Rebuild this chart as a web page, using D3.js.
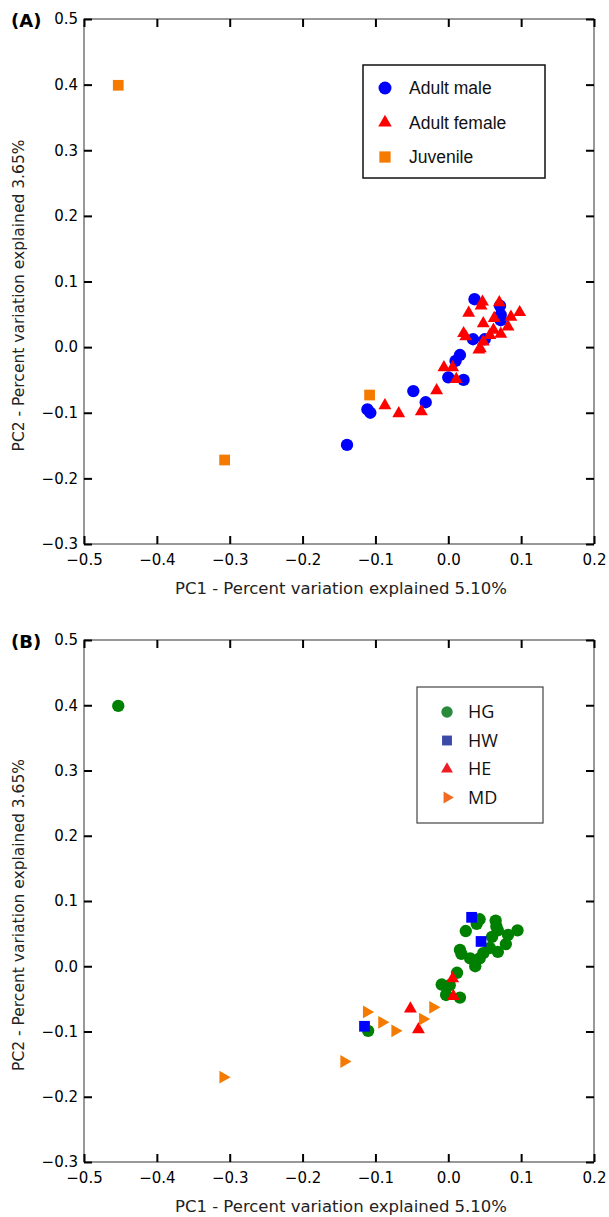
<!DOCTYPE html>
<html>
<head>
<meta charset="utf-8">
<script src="https://cdn.jsdelivr.net/npm/d3@7"></script>
<style>
  body { margin: 0; background: #fff; }
  svg { display: block; }
</style>
</head>
<body>
<svg width="609" height="1217"></svg>
<script>
// PCA scores [PC1, PC2]
const adultMale = [
    [0.036, 0.073], [0.071, 0.063], [0.072, 0.049], [0.072, 0.041], [0.034, 0.012],
    [0.050, 0.012], [0.016, -0.012], [0.010, -0.021], [0.000, -0.046], [0.021, -0.050],
    [-0.048, -0.067], [-0.031, -0.084], [-0.111, -0.095], [-0.107, -0.100], [-0.139, -0.149]
];
const adultFemale = [
    [0.047, 0.069], [0.045, 0.063], [0.070, 0.068], [0.098, 0.053], [0.028, 0.052],
    [0.086, 0.046], [0.063, 0.044], [0.082, 0.031], [0.048, 0.036], [0.021, 0.021],
    [0.024, 0.016], [0.062, 0.026], [0.072, 0.020], [0.057, 0.018], [0.048, 0.008],
    [0.044, -0.002], [0.042, -0.004], [-0.006, -0.031], [0.006, -0.031], [0.011, -0.049],
    [-0.016, -0.066], [-0.087, -0.089], [-0.068, -0.101], [-0.037, -0.098]
];
const juvenile = [[-0.453, 0.399], [-0.108, -0.073], [-0.307, -0.172]];

const hg = [
    [-0.453, 0.399], [0.043, 0.072], [0.039, 0.065], [0.024, 0.054], [0.065, 0.070],
    [0.066, 0.061], [0.068, 0.055], [0.095, 0.055], [0.082, 0.048], [0.060, 0.045],
    [0.079, 0.034], [0.068, 0.022], [0.057, 0.028], [0.048, 0.020], [0.043, 0.012],
    [0.037, 0.000], [0.030, 0.012], [0.016, 0.025], [0.018, 0.019], [0.012, -0.010],
    [-0.009, -0.028], [0.002, -0.029], [-0.003, -0.044], [0.016, -0.048], [-0.110, -0.099]
];
const hw = [[0.032, 0.075], [0.045, 0.038], [-0.115, -0.092]];
const he = [[0.006, -0.019], [0.007, -0.046], [-0.052, -0.065], [-0.041, -0.097]];
const md = [
    [-0.112, -0.070], [-0.091, -0.086], [-0.073, -0.099], [-0.021, -0.063],
    [-0.035, -0.081], [-0.309, -0.170], [-0.143, -0.146]
];

const xTicks = [-0.5, -0.4, -0.3, -0.2, -0.1, 0.0, 0.1, 0.2];
const yTicks = [-0.3, -0.2, -0.1, 0.0, 0.1, 0.2, 0.3, 0.4, 0.5];
const xTitle = 'PC1 - Percent variation explained 5.10%';
const yTitle = 'PC2 - Percent variation explained 3.65%';

const svg = d3.select('svg');
const fmt = d3.format('.1f');

const shapes = {
    circle: { type: d3.symbolCircle, size: 120, rotate: 0 },
    square: { type: d3.symbolSquare, size: 115, rotate: 0 },
    triangle: { type: d3.symbolTriangle, size: 72, rotate: 0 },
    right: { type: d3.symbolTriangle, size: 72, rotate: 90 }
};

const drawPanel = (top, height, label, series, legend) => {
    const left = 84, right = 594, bottom = top + height;
    const x = d3.scaleLinear().domain([-0.5, 0.2]).range([left, right]);
    const y = d3.scaleLinear().domain([-0.3, 0.5]).range([bottom, top]);
    const g = svg.append('g');

    // frame
    g.append('rect')
        .attr('x', left).attr('y', top)
        .attr('width', right - left).attr('height', bottom - top)
        .attr('fill', 'none').attr('stroke', '#333').attr('stroke-width', 1);

    const styleAxis = (sel, noText) => {
        sel.select('.domain').remove();
        sel.selectAll('.tick line').attr('stroke', '#000').attr('stroke-width', 2);
        sel.selectAll('.tick text')
            .attr('font-family', 'DejaVu Sans').attr('font-size', 15).attr('fill', '#000');
        if (noText) sel.selectAll('.tick text').remove();
    };

    g.append('g').attr('transform', `translate(0,${bottom})`)
        .call(d3.axisBottom(x).tickValues(xTicks).tickFormat(fmt).tickSize(-8).tickPadding(10))
        .call(s => styleAxis(s, false));
    g.append('g').attr('transform', `translate(0,${top})`)
        .call(d3.axisTop(x).tickValues(xTicks).tickSize(-8))
        .call(s => styleAxis(s, true));
    g.append('g').attr('transform', `translate(${left},0)`)
        .call(d3.axisLeft(y).tickValues(yTicks).tickFormat(fmt).tickSize(-8).tickPadding(6))
        .call(s => styleAxis(s, false));
    g.append('g').attr('transform', `translate(${right},0)`)
        .call(d3.axisRight(y).tickValues(yTicks).tickSize(-8))
        .call(s => styleAxis(s, true));

    // titles
    g.append('text')
        .attr('x', (left + right) / 2 + 2).attr('y', bottom + 50)
        .attr('text-anchor', 'middle')
        .attr('font-family', 'DejaVu Sans').attr('font-size', 16.5).attr('fill', '#222')
        .text(xTitle);
    g.append('text')
        .attr('transform', `translate(24,${(top + bottom) / 2 + 14}) rotate(-90)`)
        .attr('text-anchor', 'middle')
        .attr('font-family', 'DejaVu Sans').attr('font-size', 15.5).attr('fill', '#222')
        .text(yTitle);
    g.append('text')
        .attr('x', 11).attr('y', top + 8)
        .attr('font-family', 'DejaVu Sans').attr('font-size', 18).attr('font-weight', 'bold')
        .text(label);

    // points
    series.forEach(s => {
        const sh = shapes[s.shape];
        g.append('g').selectAll('path').data(s.data).enter().append('path')
            .attr('d', d3.symbol().type(sh.type).size(sh.size))
            .attr('transform', d => `translate(${x(d[0])},${y(d[1])}) rotate(${sh.rotate})`)
            .attr('fill', s.color);
    });

    // legend
    const lg = g.append('g');
    lg.append('rect')
        .attr('x', legend.x).attr('y', legend.y)
        .attr('width', legend.w).attr('height', legend.h)
        .attr('fill', '#fff').attr('stroke', legend.stroke).attr('stroke-width', legend.sw);
    legend.items.forEach((it, i) => {
        const cy = legend.y + legend.first + i * legend.step;
        const sh = shapes[it.shape];
        lg.append('path')
            .attr('d', d3.symbol().type(sh.type).size(sh.size * legend.scale))
            .attr('transform', `translate(${legend.x + legend.mx},${cy}) rotate(${sh.rotate})`)
            .attr('fill', it.color);
        lg.append('text')
            .attr('x', legend.x + legend.tx).attr('y', cy)
            .attr('dy', '0.36em')
            .attr('font-family', legend.font).attr('font-size', legend.fs).attr('fill', '#111')
            .text(it.name);
    });
};

drawPanel(19, 525, '(A)', [
    { data: adultMale, shape: 'circle', color: '#0000ff' },
    { data: adultFemale, shape: 'triangle', color: '#ff0000' },
    { data: juvenile, shape: 'square', color: '#f57a00' }
], {
    x: 363, y: 65, w: 182, h: 113, stroke: '#111', sw: 1.5, first: 23, step: 34.5,
    mx: 22, tx: 46, font: 'Liberation Sans', fs: 17.5, scale: 1.1,
    items: [
        { name: 'Adult male', shape: 'circle', color: '#0000ff' },
        { name: 'Adult female', shape: 'triangle', color: '#ff0000' },
        { name: 'Juvenile', shape: 'square', color: '#f57a00' }
    ]
});

drawPanel(640, 522, '(B)', [
    { data: hg, shape: 'circle', color: '#008000' },
    { data: hw, shape: 'square', color: '#0000ff' },
    { data: he, shape: 'triangle', color: '#ff0000' },
    { data: md, shape: 'right', color: '#f57a00' }
], {
    x: 417, y: 687, w: 126, h: 136, stroke: '#444', sw: 1.2, first: 25, step: 28.5,
    mx: 30, tx: 51, font: 'Open Sans', fs: 18, scale: 0.85,
    items: [
        { name: 'HG', shape: 'circle', color: '#2a8a3c' },
        { name: 'HW', shape: 'square', color: '#3a4aa6' },
        { name: 'HE', shape: 'triangle', color: '#ee1d25' },
        { name: 'MD', shape: 'right', color: '#f26a21' }
    ]
});
</script>
</body>
</html>
